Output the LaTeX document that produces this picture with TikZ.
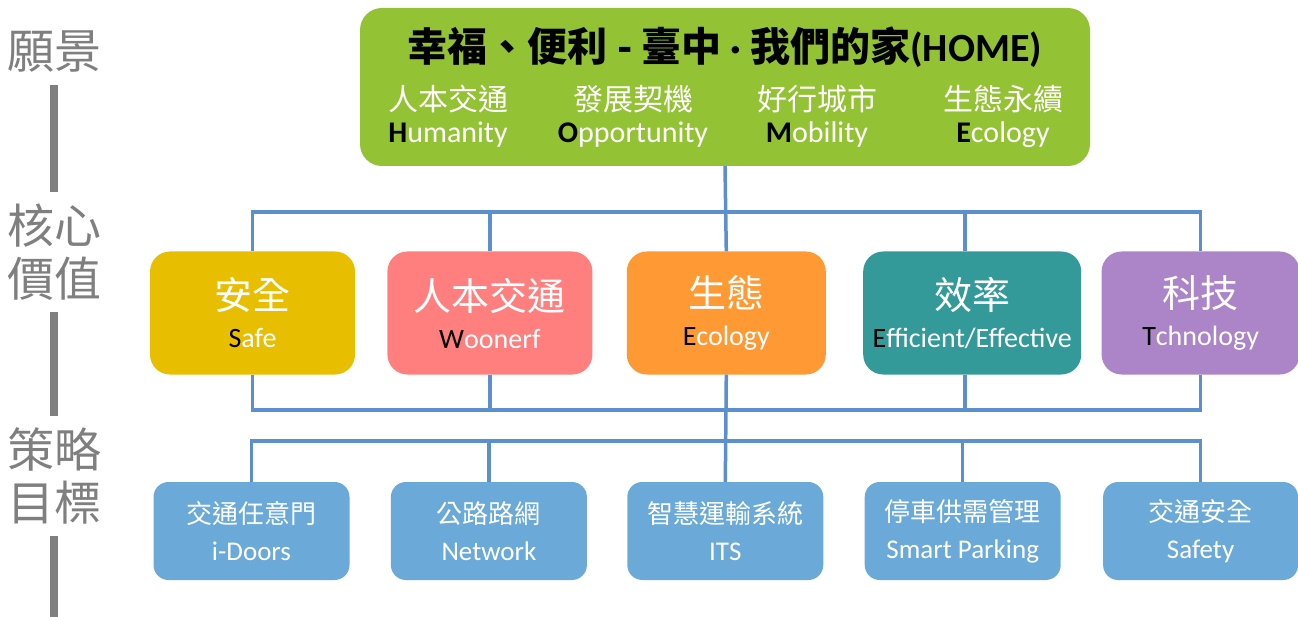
\documentclass[tikz,border=0pt]{standalone}
\usepackage{fontspec}
\setmainfont{Carlito}
\newfontfamily\cjk{Noto Sans CJK TC}
\usetikzlibrary{positioning}

\definecolor{homegreen}{HTML}{93C234}
\definecolor{safeyellow}{HTML}{E8BE00}
\definecolor{woonpink}{HTML}{FF7F7F}
\definecolor{ecoorange}{HTML}{FF9933}
\definecolor{effteal}{HTML}{339999}
\definecolor{techpurple}{HTML}{AB85C7}
\definecolor{goalblue}{HTML}{6BAAD8}
\definecolor{linkblue}{HTML}{5B8FD0}
\definecolor{sidegray}{HTML}{7F7F7F}

\newcommand{\zhvalue}{\cjk\fontsize{38}{40}\selectfont}
\newcommand{\zhgoal}{\cjk\fontsize{26}{28}\selectfont}
\newcommand{\zhhome}{\cjk\fontsize{30}{32}\selectfont}

\begin{document}
\begin{tikzpicture}[
  x=1pt, y=-1pt,
  node distance=32pt,
  box/.style={
    rounded corners=20pt,
    align=center,
    inner sep=0pt,
    text=white
  },
  valuebox/.style={
    box,
    minimum width=205pt,
    minimum height=123pt,
    font=\fontsize{28}{38}\selectfont
  },
  goalbox/.style={
    box,
    fill=goalblue,
    rounded corners=15pt,
    minimum width=196pt,
    minimum height=98pt,
    font=\fontsize{27}{37}\selectfont
  },
  homeitem/.style={
    align=center,
    inner sep=0pt,
    text=white,
    font=\fontsize{30}{32}\selectfont
  },
  side/.style={
    text=sidegray,
    align=center,
    inner sep=0pt,
    outer sep=12pt,
    font=\cjk\fontsize{47}{53}\selectfont
  },
  bar/.style={draw=sidegray, line width=8pt},
  link/.style={draw=linkblue, line width=3.5pt}
]
\useasboundingbox (0,0) rectangle (1298,617);

% Side labels
\node[side] (lvision) at (54,52) {願景};
\node[side] (lcore) at (54,252) {核心\\價值};
\node[side] (lgoal) at (54,476) {策略\\目標};
\coordinate (lend) at (54,617);

\draw[bar] (lvision) -- (lcore);
\draw[bar] (lcore) -- (lgoal);
\draw[bar] (lgoal) -- (lend);

% Vision
\node[box, fill=homegreen, rounded corners=22pt, minimum width=730pt, minimum height=158pt] (vision) at (725,87) {};
\node[inner sep=0pt, font=\bfseries\fontsize{40}{42}\selectfont] (title) at (725,47) {{\cjk 幸福、便利 - 臺中} · {\cjk 我們的家}(HOME)};
\node[homeitem] (humanity) at (448,116) {{\zhhome 人本交通}\\\textcolor{black}{\textbf{H}}umanity};
\node[homeitem] (opportunity) at (633,116) {{\zhhome 發展契機}\\\textcolor{black}{\textbf{O}}pportunity};
\node[homeitem] (mobility) at (817,116) {{\zhhome 好行城市}\\\textcolor{black}{\textbf{M}}obility};
\node[homeitem] (ecology) at (1003,116) {{\zhhome 生態永續}\\\textcolor{black}{\textbf{E}}cology};

% Core values
\node[valuebox, fill=safeyellow] (safe) at (252.5,313) {{\zhvalue 安全}\\\textcolor{black}{S}afe};
\node[valuebox, fill=woonpink, right=32pt of safe] (woonerf) {{\zhvalue 人本交通}\\\textcolor{black}{W}oonerf};
\node[valuebox, fill=ecoorange, minimum width=199pt, right=34pt of woonerf] (eco) {{\zhvalue 生態}\\\textcolor{black}{E}cology};
\node[valuebox, fill=effteal, minimum width=218pt, right=37pt of eco] (eff) {{\zhvalue 效率}\\\textcolor{black}{E}fficient/Effective};
\node[valuebox, fill=techpurple, minimum width=198pt, right=20pt of eff] (tech) {{\zhvalue 科技}\\\textcolor{black}{T}chnology};

% Strategic goals
\node[goalbox] (idoors) at (251.5,531) {{\zhgoal 交通任意門}\\i-Doors};
\node[goalbox, right=41pt of idoors] (network) {{\zhgoal 公路路網}\\Network};
\node[goalbox, right=40pt of network] (its) {{\zhgoal 智慧運輸系統}\\ITS};
\node[goalbox, right=41pt of its] (parking) {{\zhgoal 停車供需管理}\\Smart Parking};
\node[goalbox, minimum width=195pt, right=42pt of parking] (safety) {{\zhgoal 交通安全}\\Safety};

% Links
\coordinate (bus1) at (725,212);
\coordinate (bus2) at (725,410);
\coordinate (bus3) at (725,441);

\draw[link] (vision.south) -- (eco.north);
\draw[link] (safe.north) |- (tech.north |- bus1) -- (tech.north);
\draw[link] (woonerf.north) -- (woonerf.north |- bus1);
\draw[link] ([xshift=-7pt]eff.north) -- ([xshift=-7pt]eff.north |- bus1);

\draw[link] (safe.south) |- (tech.south |- bus2) -- (tech.south);
\draw[link] (woonerf.south) -- (woonerf.south |- bus2);
\draw[link] ([xshift=-7pt]eff.south) -- ([xshift=-7pt]eff.south |- bus2);
\draw[link] (eco.south) -- (its.north);

\draw[link] (idoors.north) |- (safety.north |- bus3) -- (safety.north);
\draw[link] (network.north) -- (network.north |- bus3);
\draw[link] (parking.north) -- (parking.north |- bus3);

\end{tikzpicture}
\end{document}
